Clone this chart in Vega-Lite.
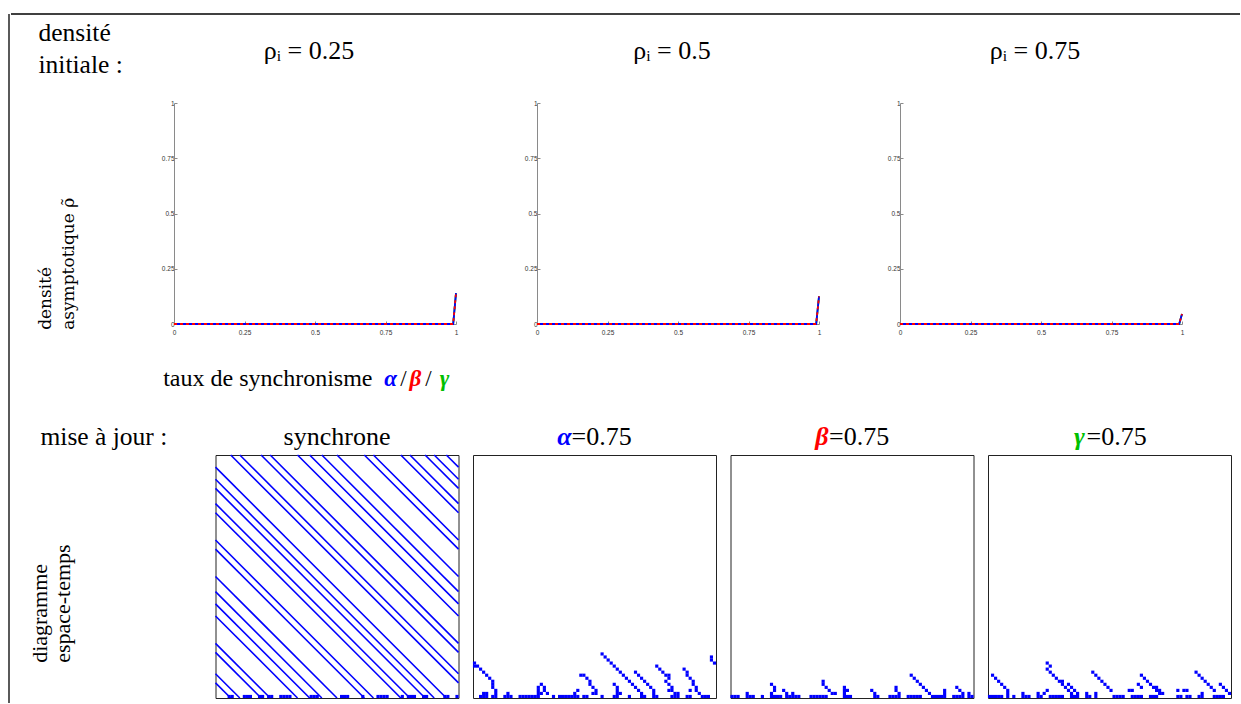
{
 "$schema": "https://vega.github.io/schema/vega-lite/v6.json",
 "padding": {"left": 8, "top": 13, "right": 0, "bottom": 0},
 "background": "white",
 "config": {
   "view": {"stroke": null},
   "font": "Liberation Serif",
   "title": {"font": "Liberation Serif", "fontWeight": "normal", "color": "black"},
   "text": {"font": "Liberation Serif"},
   "axis": {"grid": false}
 },
 "datasets": {
  "lines": [
   {"r":"0.25","s":"g","x":0,"y":0},{"r":"0.25","s":"g","x":0.25,"y":0},{"r":"0.25","s":"g","x":0.5,"y":0},{"r":"0.25","s":"g","x":0.75,"y":0},{"r":"0.25","s":"g","x":0.99,"y":0},{"r":"0.25","s":"g","x":1,"y":0.14},
   {"r":"0.25","s":"a","x":0,"y":0},{"r":"0.25","s":"a","x":0.25,"y":0},{"r":"0.25","s":"a","x":0.5,"y":0},{"r":"0.25","s":"a","x":0.75,"y":0},{"r":"0.25","s":"a","x":0.99,"y":0},{"r":"0.25","s":"a","x":1,"y":0.14},
   {"r":"0.25","s":"b","x":0,"y":0},{"r":"0.25","s":"b","x":0.25,"y":0},{"r":"0.25","s":"b","x":0.5,"y":0},{"r":"0.25","s":"b","x":0.75,"y":0},{"r":"0.25","s":"b","x":0.99,"y":0},{"r":"0.25","s":"b","x":1,"y":0.14},
   {"r":"0.5","s":"g","x":0,"y":0},{"r":"0.5","s":"g","x":0.25,"y":0},{"r":"0.5","s":"g","x":0.5,"y":0},{"r":"0.5","s":"g","x":0.75,"y":0},{"r":"0.5","s":"g","x":0.99,"y":0},{"r":"0.5","s":"g","x":1,"y":0.125},
   {"r":"0.5","s":"a","x":0,"y":0},{"r":"0.5","s":"a","x":0.25,"y":0},{"r":"0.5","s":"a","x":0.5,"y":0},{"r":"0.5","s":"a","x":0.75,"y":0},{"r":"0.5","s":"a","x":0.99,"y":0},{"r":"0.5","s":"a","x":1,"y":0.125},
   {"r":"0.5","s":"b","x":0,"y":0},{"r":"0.5","s":"b","x":0.25,"y":0},{"r":"0.5","s":"b","x":0.5,"y":0},{"r":"0.5","s":"b","x":0.75,"y":0},{"r":"0.5","s":"b","x":0.99,"y":0},{"r":"0.5","s":"b","x":1,"y":0.125},
   {"r":"0.75","s":"g","x":0,"y":0},{"r":"0.75","s":"g","x":0.25,"y":0},{"r":"0.75","s":"g","x":0.5,"y":0},{"r":"0.75","s":"g","x":0.75,"y":0},{"r":"0.75","s":"g","x":0.99,"y":0},{"r":"0.75","s":"g","x":1,"y":0.045},
   {"r":"0.75","s":"a","x":0,"y":0},{"r":"0.75","s":"a","x":0.25,"y":0},{"r":"0.75","s":"a","x":0.5,"y":0},{"r":"0.75","s":"a","x":0.75,"y":0},{"r":"0.75","s":"a","x":0.99,"y":0},{"r":"0.75","s":"a","x":1,"y":0.045},
   {"r":"0.75","s":"b","x":0,"y":0},{"r":"0.75","s":"b","x":0.25,"y":0},{"r":"0.75","s":"b","x":0.5,"y":0},{"r":"0.75","s":"b","x":0.75,"y":0},{"r":"0.75","s":"b","x":0.99,"y":0},{"r":"0.75","s":"b","x":1,"y":0.045}
  ],
  "segs": [
   {"p":"s","x":4.5,"y":79.5,"x2":79.5,"y2":4.5},{"p":"s","x":-0.5,"y":4.5,"x2":4.5,"y2":-0.5},
   {"p":"s","x":7.5,"y":79.5,"x2":79.5,"y2":7.5},{"p":"s","x":-0.5,"y":7.5,"x2":7.5,"y2":-0.5},
   {"p":"s","x":14.5,"y":79.5,"x2":79.5,"y2":14.5},{"p":"s","x":-0.5,"y":14.5,"x2":14.5,"y2":-0.5},
   {"p":"s","x":17.5,"y":79.5,"x2":79.5,"y2":17.5},{"p":"s","x":-0.5,"y":17.5,"x2":17.5,"y2":-0.5},
   {"p":"s","x":26.5,"y":79.5,"x2":79.5,"y2":26.5},{"p":"s","x":-0.5,"y":26.5,"x2":26.5,"y2":-0.5},
   {"p":"s","x":30.5,"y":79.5,"x2":79.5,"y2":30.5},{"p":"s","x":-0.5,"y":30.5,"x2":30.5,"y2":-0.5},
   {"p":"s","x":34.5,"y":79.5,"x2":79.5,"y2":34.5},{"p":"s","x":-0.5,"y":34.5,"x2":34.5,"y2":-0.5},
   {"p":"s","x":39.5,"y":79.5,"x2":79.5,"y2":39.5},{"p":"s","x":-0.5,"y":39.5,"x2":39.5,"y2":-0.5},
   {"p":"s","x":48.5,"y":79.5,"x2":79.5,"y2":48.5},{"p":"s","x":-0.5,"y":48.5,"x2":48.5,"y2":-0.5},
   {"p":"s","x":51.5,"y":79.5,"x2":79.5,"y2":51.5},{"p":"s","x":-0.5,"y":51.5,"x2":51.5,"y2":-0.5},
   {"p":"s","x":60.5,"y":79.5,"x2":79.5,"y2":60.5},{"p":"s","x":-0.5,"y":60.5,"x2":60.5,"y2":-0.5},
   {"p":"s","x":63.5,"y":79.5,"x2":79.5,"y2":63.5},{"p":"s","x":-0.5,"y":63.5,"x2":63.5,"y2":-0.5},
   {"p":"s","x":68.5,"y":79.5,"x2":79.5,"y2":68.5},{"p":"s","x":-0.5,"y":68.5,"x2":68.5,"y2":-0.5},
   {"p":"s","x":71.5,"y":79.5,"x2":79.5,"y2":71.5},{"p":"s","x":-0.5,"y":71.5,"x2":71.5,"y2":-0.5},
   {"p":"s","x":75.5,"y":79.5,"x2":79.5,"y2":75.5},{"p":"s","x":-0.5,"y":75.5,"x2":75.5,"y2":-0.5}
  ],
  "cells": [
   {"p":"s","x":4,"y":0},{"p":"s","x":5,"y":0},{"p":"s","x":9,"y":0},{"p":"s","x":10,"y":0},{"p":"s","x":11,"y":0},{"p":"s","x":14,"y":0},{"p":"s","x":15,"y":0},{"p":"s","x":17,"y":0},{"p":"s","x":18,"y":0},{"p":"s","x":21,"y":0},{"p":"s","x":22,"y":0},{"p":"s","x":23,"y":0},{"p":"s","x":24,"y":0},{"p":"s","x":31,"y":0},{"p":"s","x":32,"y":0},{"p":"s","x":33,"y":0},{"p":"s","x":41,"y":0},{"p":"s","x":42,"y":0},{"p":"s","x":43,"y":0},{"p":"s","x":48,"y":0},{"p":"s","x":53,"y":0},{"p":"s","x":54,"y":0},{"p":"s","x":55,"y":0},{"p":"s","x":56,"y":0},{"p":"s","x":61,"y":0},{"p":"s","x":63,"y":0},{"p":"s","x":64,"y":0},{"p":"s","x":65,"y":0},{"p":"s","x":68,"y":0},{"p":"s","x":69,"y":0},{"p":"s","x":75,"y":0},{"p":"s","x":76,"y":0},{"p":"s","x":79,"y":0},

   {"p":"a","x":0,"y":11},{"p":"a","x":0,"y":10},{"p":"a","x":1,"y":10},{"p":"a","x":2,"y":9},{"p":"a","x":3,"y":8},{"p":"a","x":4,"y":7},{"p":"a","x":5,"y":6},{"p":"a","x":6,"y":5},{"p":"a","x":6,"y":4},{"p":"a","x":6,"y":3},{"p":"a","x":7,"y":2},{"p":"a","x":7,"y":1},
   {"p":"a","x":2,"y":0},{"p":"a","x":3,"y":0},{"p":"a","x":4,"y":0},{"p":"a","x":6,"y":0},{"p":"a","x":7,"y":0},{"p":"a","x":10,"y":0},{"p":"a","x":11,"y":0},{"p":"a","x":12,"y":0},{"p":"a","x":15,"y":0},{"p":"a","x":16,"y":0},{"p":"a","x":17,"y":0},{"p":"a","x":18,"y":0},{"p":"a","x":19,"y":0},{"p":"a","x":20,"y":0},{"p":"a","x":21,"y":0},{"p":"a","x":26,"y":0},{"p":"a","x":28,"y":0},{"p":"a","x":29,"y":0},{"p":"a","x":30,"y":0},{"p":"a","x":31,"y":0},{"p":"a","x":32,"y":0},{"p":"a","x":33,"y":0},{"p":"a","x":34,"y":0},{"p":"a","x":36,"y":0},{"p":"a","x":37,"y":0},{"p":"a","x":42,"y":0},{"p":"a","x":46,"y":0},{"p":"a","x":47,"y":0},{"p":"a","x":51,"y":0},{"p":"a","x":55,"y":0},{"p":"a","x":56,"y":0},{"p":"a","x":59,"y":0},{"p":"a","x":60,"y":0},{"p":"a","x":65,"y":0},{"p":"a","x":66,"y":0},{"p":"a","x":67,"y":0},{"p":"a","x":70,"y":0},{"p":"a","x":71,"y":0},{"p":"a","x":75,"y":0},{"p":"a","x":76,"y":0},{"p":"a","x":77,"y":0},
   {"p":"a","x":3,"y":1},{"p":"a","x":4,"y":1},{"p":"a","x":11,"y":1},{"p":"a","x":21,"y":1},{"p":"a","x":21,"y":2},{"p":"a","x":21,"y":3},{"p":"a","x":22,"y":4},{"p":"a","x":23,"y":3},{"p":"a","x":23,"y":2},{"p":"a","x":24,"y":1},{"p":"a","x":22,"y":1},
   {"p":"a","x":35,"y":7},{"p":"a","x":36,"y":7},{"p":"a","x":37,"y":6},{"p":"a","x":38,"y":5},{"p":"a","x":38,"y":4},{"p":"a","x":39,"y":3},{"p":"a","x":40,"y":2},{"p":"a","x":39,"y":1},{"p":"a","x":40,"y":1},{"p":"a","x":33,"y":1},{"p":"a","x":34,"y":2},
   {"p":"a","x":42,"y":14},{"p":"a","x":43,"y":13},{"p":"a","x":44,"y":12},{"p":"a","x":45,"y":11},{"p":"a","x":46,"y":10},{"p":"a","x":47,"y":9},{"p":"a","x":48,"y":8},{"p":"a","x":49,"y":7},{"p":"a","x":50,"y":6},{"p":"a","x":51,"y":5},{"p":"a","x":52,"y":4},{"p":"a","x":53,"y":3},{"p":"a","x":54,"y":2},{"p":"a","x":55,"y":1},
   {"p":"a","x":53,"y":8},{"p":"a","x":54,"y":7},{"p":"a","x":55,"y":6},{"p":"a","x":56,"y":5},{"p":"a","x":57,"y":4},{"p":"a","x":58,"y":3},{"p":"a","x":59,"y":2},{"p":"a","x":59,"y":1},
   {"p":"a","x":60,"y":10},{"p":"a","x":61,"y":9},{"p":"a","x":62,"y":8},{"p":"a","x":63,"y":7},{"p":"a","x":64,"y":7},{"p":"a","x":64,"y":6},{"p":"a","x":63,"y":5},{"p":"a","x":64,"y":4},{"p":"a","x":65,"y":3},{"p":"a","x":64,"y":2},{"p":"a","x":65,"y":2},{"p":"a","x":66,"y":1},{"p":"a","x":67,"y":1},
   {"p":"a","x":69,"y":9},{"p":"a","x":70,"y":8},{"p":"a","x":70,"y":7},{"p":"a","x":71,"y":6},{"p":"a","x":72,"y":5},{"p":"a","x":72,"y":4},{"p":"a","x":73,"y":3},{"p":"a","x":71,"y":2},{"p":"a","x":73,"y":2},{"p":"a","x":74,"y":1},
   {"p":"a","x":78,"y":13},{"p":"a","x":78,"y":12},{"p":"a","x":79,"y":11},
   {"p":"a","x":46,"y":4},{"p":"a","x":47,"y":3},{"p":"a","x":47,"y":2},{"p":"a","x":47,"y":1},{"p":"a","x":48,"y":1},

   {"p":"b","x":0,"y":0},{"p":"b","x":1,"y":0},{"p":"b","x":2,"y":0},{"p":"b","x":5,"y":0},{"p":"b","x":6,"y":0},{"p":"b","x":7,"y":0},{"p":"b","x":10,"y":0},{"p":"b","x":13,"y":0},{"p":"b","x":14,"y":0},{"p":"b","x":15,"y":0},{"p":"b","x":16,"y":0},{"p":"b","x":18,"y":0},{"p":"b","x":19,"y":0},{"p":"b","x":20,"y":0},{"p":"b","x":21,"y":0},{"p":"b","x":22,"y":0},{"p":"b","x":26,"y":0},{"p":"b","x":27,"y":0},{"p":"b","x":28,"y":0},{"p":"b","x":29,"y":0},{"p":"b","x":30,"y":0},{"p":"b","x":31,"y":0},{"p":"b","x":37,"y":0},{"p":"b","x":38,"y":0},{"p":"b","x":39,"y":0},{"p":"b","x":47,"y":0},{"p":"b","x":48,"y":0},{"p":"b","x":52,"y":0},{"p":"b","x":53,"y":0},{"p":"b","x":54,"y":0},{"p":"b","x":55,"y":0},{"p":"b","x":58,"y":0},{"p":"b","x":59,"y":0},{"p":"b","x":60,"y":0},{"p":"b","x":61,"y":0},{"p":"b","x":62,"y":0},{"p":"b","x":66,"y":0},{"p":"b","x":67,"y":0},{"p":"b","x":68,"y":0},{"p":"b","x":69,"y":0},{"p":"b","x":70,"y":0},{"p":"b","x":73,"y":0},{"p":"b","x":74,"y":0},{"p":"b","x":75,"y":0},{"p":"b","x":76,"y":0},{"p":"b","x":78,"y":0},{"p":"b","x":79,"y":0},
   {"p":"b","x":5,"y":1},{"p":"b","x":13,"y":4},{"p":"b","x":14,"y":3},{"p":"b","x":14,"y":2},{"p":"b","x":13,"y":1},{"p":"b","x":17,"y":2},{"p":"b","x":18,"y":1},{"p":"b","x":20,"y":1},{"p":"b","x":30,"y":5},{"p":"b","x":30,"y":4},{"p":"b","x":31,"y":3},{"p":"b","x":32,"y":2},{"p":"b","x":33,"y":1},{"p":"b","x":34,"y":1},{"p":"b","x":37,"y":3},{"p":"b","x":37,"y":2},{"p":"b","x":38,"y":2},{"p":"b","x":37,"y":1},{"p":"b","x":46,"y":2},{"p":"b","x":47,"y":1},{"p":"b","x":54,"y":3},{"p":"b","x":54,"y":2},{"p":"b","x":55,"y":1},{"p":"b","x":59,"y":7},{"p":"b","x":60,"y":6},{"p":"b","x":61,"y":5},{"p":"b","x":62,"y":4},{"p":"b","x":63,"y":3},{"p":"b","x":64,"y":2},{"p":"b","x":65,"y":1},{"p":"b","x":70,"y":2},{"p":"b","x":70,"y":1},{"p":"b","x":74,"y":3},{"p":"b","x":75,"y":2},{"p":"b","x":76,"y":1},{"p":"b","x":78,"y":1},

   {"p":"g","x":0,"y":0},{"p":"g","x":1,"y":0},{"p":"g","x":2,"y":0},{"p":"g","x":3,"y":0},{"p":"g","x":4,"y":0},{"p":"g","x":6,"y":0},{"p":"g","x":8,"y":0},{"p":"g","x":11,"y":0},{"p":"g","x":12,"y":0},{"p":"g","x":13,"y":0},{"p":"g","x":16,"y":0},{"p":"g","x":17,"y":0},{"p":"g","x":20,"y":0},{"p":"g","x":21,"y":0},{"p":"g","x":22,"y":0},{"p":"g","x":23,"y":0},{"p":"g","x":24,"y":0},{"p":"g","x":27,"y":0},{"p":"g","x":28,"y":0},{"p":"g","x":29,"y":0},{"p":"g","x":32,"y":0},{"p":"g","x":33,"y":0},{"p":"g","x":35,"y":0},{"p":"g","x":41,"y":0},{"p":"g","x":42,"y":0},{"p":"g","x":43,"y":0},{"p":"g","x":44,"y":0},{"p":"g","x":47,"y":0},{"p":"g","x":48,"y":0},{"p":"g","x":49,"y":0},{"p":"g","x":50,"y":0},{"p":"g","x":53,"y":0},{"p":"g","x":54,"y":0},{"p":"g","x":55,"y":0},{"p":"g","x":62,"y":0},{"p":"g","x":63,"y":0},{"p":"g","x":65,"y":0},{"p":"g","x":66,"y":0},{"p":"g","x":69,"y":0},{"p":"g","x":70,"y":0},{"p":"g","x":74,"y":0},{"p":"g","x":75,"y":0},{"p":"g","x":76,"y":0},{"p":"g","x":77,"y":0},
   {"p":"g","x":1,"y":7},{"p":"g","x":2,"y":6},{"p":"g","x":3,"y":5},{"p":"g","x":4,"y":4},{"p":"g","x":5,"y":3},{"p":"g","x":6,"y":2},{"p":"g","x":6,"y":1},{"p":"g","x":11,"y":1},{"p":"g","x":16,"y":1},{"p":"g","x":19,"y":11},{"p":"g","x":20,"y":10},{"p":"g","x":19,"y":9},{"p":"g","x":20,"y":8},{"p":"g","x":21,"y":7},{"p":"g","x":22,"y":6},{"p":"g","x":23,"y":5},{"p":"g","x":24,"y":5},{"p":"g","x":24,"y":4},{"p":"g","x":25,"y":3},{"p":"g","x":26,"y":4},{"p":"g","x":26,"y":2},{"p":"g","x":27,"y":3},{"p":"g","x":27,"y":1},{"p":"g","x":28,"y":2},{"p":"g","x":29,"y":1},{"p":"g","x":18,"y":1},{"p":"g","x":19,"y":2},{"p":"g","x":32,"y":1},{"p":"g","x":35,"y":1},{"p":"g","x":34,"y":8},{"p":"g","x":35,"y":7},{"p":"g","x":36,"y":6},{"p":"g","x":37,"y":5},{"p":"g","x":38,"y":4},{"p":"g","x":39,"y":3},{"p":"g","x":40,"y":2},{"p":"g","x":46,"y":2},{"p":"g","x":47,"y":2},{"p":"g","x":49,"y":4},{"p":"g","x":50,"y":3},{"p":"g","x":50,"y":7},{"p":"g","x":51,"y":6},{"p":"g","x":52,"y":5},{"p":"g","x":53,"y":4},{"p":"g","x":54,"y":3},{"p":"g","x":55,"y":3},{"p":"g","x":55,"y":2},{"p":"g","x":56,"y":2},{"p":"g","x":56,"y":1},{"p":"g","x":57,"y":1},{"p":"g","x":62,"y":2},{"p":"g","x":64,"y":2},{"p":"g","x":65,"y":2},{"p":"g","x":68,"y":8},{"p":"g","x":69,"y":7},{"p":"g","x":70,"y":6},{"p":"g","x":71,"y":5},{"p":"g","x":72,"y":4},{"p":"g","x":73,"y":3},{"p":"g","x":74,"y":2},{"p":"g","x":70,"y":1},{"p":"g","x":76,"y":4},{"p":"g","x":77,"y":3},{"p":"g","x":78,"y":2},{"p":"g","x":79,"y":1}
  ]
 },
 "spacing": 0,
 "hconcat": [
  {"width": 0.5, "height": 689, "data": {"values": [{"v": 0}]}, "mark": {"type": "rule", "color": "black", "strokeWidth": 1.3}, "encoding": {"x": {"field": "v", "type": "quantitative", "scale": {"domain": [0, 1]}, "axis": null}}},
  {"spacing": 5, "vconcat": [
   {"width": 1229, "height": 2, "data": {"values": [{"v": 1}]}, "mark": {"type": "rule", "color": "black", "strokeWidth": 1.3}, "encoding": {"y": {"field": "v", "type": "quantitative", "scale": {"domain": [0, 1]}, "axis": null}}},
   {"spacing": 81, "bounds": "flush", "hconcat": [
    {"width": 82, "height": 315, "data": {"values": []}, "mark": "point", "encoding": {},
     "title": {"text": ["densité", "initiale :"], "anchor": "start", "frame": "group", "dx": 27.5, "offset": 4.5, "baseline": "alphabetic", "font": "Liberation Serif", "fontWeight": "normal", "fontSize": 25.5, "lineHeight": 32}},
    {"width": 282, "height": 221,
     "title": {"text": "ρᵢ = 0.25", "frame": "group", "anchor": "middle", "dx": -6, "offset": 15, "baseline": "alphabetic", "font": "Liberation Serif", "fontWeight": "normal", "fontSize": 26},
     "layer": [
      {"data": {"name": "lines"}, "transform": [{"filter": "datum.r == '0.25' && datum.s == 'g'"}], "mark": {"type": "line", "color": "#00c000", "strokeWidth": 1.8},
       "encoding": {
        "x": {"field": "x", "type": "quantitative", "scale": {"domain": [0, 1], "nice": false, "zero": false}, "axis": {"values": [0, 0.25, 0.5, 0.75, 1], "format": ".2~f", "title": null, "labelFlush": false, "labelOverlap": false, "domainColor": "#8a8a8a", "tickColor": "#8a8a8a", "tickSize": -3, "labelFont": "Liberation Sans", "labelFontSize": 6.5, "labelColor": "#333333", "labelPadding": 8.5}},
        "y": {"field": "y", "type": "quantitative", "scale": {"domain": [0, 1], "nice": false}, "axis": {"values": [0, 0.25, 0.5, 0.75, 1], "format": ".2~f", "labelFlush": false, "labelOverlap": false, "domainColor": "#8a8a8a", "tickColor": "#8a8a8a", "tickSize": -3, "labelFont": "Liberation Sans", "labelFontSize": 6.5, "labelColor": "#333333", "labelPadding": 3,
          "title": ["densité", "asymptotique ρ̃"], "titleFont": "DejaVu Serif", "titleFontSize": 17, "titleFontWeight": "normal", "titleColor": "black", "titleAngle": 270, "titleAlign": "left", "titleBaseline": "top", "titleX": -137, "titleY": 226.35, "titleLineHeight": 23}}
       }},
      {"data": {"name": "lines"}, "transform": [{"filter": "datum.r == '0.25' && datum.s == 'a'"}], "mark": {"type": "line", "color": "#0000ff", "strokeWidth": 1.8},
       "encoding": {"x": {"field": "x", "type": "quantitative"}, "y": {"field": "y", "type": "quantitative"}}},
      {"data": {"name": "lines"}, "transform": [{"filter": "datum.r == '0.25' && datum.s == 'b'"}], "mark": {"type": "line", "color": "#ff0000", "strokeWidth": 1.8, "strokeDash": [3, 3]},
       "encoding": {"x": {"field": "x", "type": "quantitative"}, "y": {"field": "y", "type": "quantitative"}}},
      {"data": {"values": [{}]}, "mark": {"type": "text", "text": "taux de synchronisme", "align": "left", "baseline": "middle", "dx": -10.8, "dy": 55.4, "fontSize": 24, "font": "Liberation Serif", "color": "black"}, "encoding": {"x": {"datum": 0, "type": "quantitative"}, "y": {"datum": 0, "type": "quantitative"}}},
      {"data": {"values": [{}]}, "mark": {"type": "text", "text": "α", "align": "center", "baseline": "middle", "dx": 216.5, "dy": 55.4, "fontSize": 23, "font": "Liberation Serif", "fontStyle": "italic", "fontWeight": "bold", "color": "#0000ff"}, "encoding": {"x": {"datum": 0, "type": "quantitative"}, "y": {"datum": 0, "type": "quantitative"}}},
      {"data": {"values": [{}]}, "mark": {"type": "text", "text": "/", "align": "center", "baseline": "middle", "dx": 229.5, "dy": 55.4, "fontSize": 23, "font": "Liberation Serif", "color": "black"}, "encoding": {"x": {"datum": 0, "type": "quantitative"}, "y": {"datum": 0, "type": "quantitative"}}},
      {"data": {"values": [{}]}, "mark": {"type": "text", "text": "β", "align": "center", "baseline": "middle", "dx": 241.5, "dy": 55.4, "fontSize": 23, "font": "Liberation Serif", "fontStyle": "italic", "fontWeight": "bold", "color": "#ff0000"}, "encoding": {"x": {"datum": 0, "type": "quantitative"}, "y": {"datum": 0, "type": "quantitative"}}},
      {"data": {"values": [{}]}, "mark": {"type": "text", "text": "/", "align": "center", "baseline": "middle", "dx": 254.5, "dy": 55.4, "fontSize": 23, "font": "Liberation Serif", "color": "black"}, "encoding": {"x": {"datum": 0, "type": "quantitative"}, "y": {"datum": 0, "type": "quantitative"}}},
      {"data": {"values": [{}]}, "mark": {"type": "text", "text": "γ", "align": "center", "baseline": "middle", "dx": 270.5, "dy": 55.4, "fontSize": 23, "font": "Liberation Serif", "fontStyle": "italic", "fontWeight": "bold", "color": "#00c000"}, "encoding": {"x": {"datum": 0, "type": "quantitative"}, "y": {"datum": 0, "type": "quantitative"}}}
     ]
    },
    {"width": 282, "height": 221,
     "title": {"text": "ρᵢ = 0.5", "frame": "group", "anchor": "middle", "dx": -6, "offset": 15, "baseline": "alphabetic", "font": "Liberation Serif", "fontWeight": "normal", "fontSize": 26},
     "data": {"name": "lines"},
     "encoding": {
      "x": {"field": "x", "type": "quantitative", "scale": {"domain": [0, 1], "nice": false, "zero": false}, "axis": {"values": [0, 0.25, 0.5, 0.75, 1], "format": ".2~f", "title": null, "labelFlush": false, "labelOverlap": false, "domainColor": "#8a8a8a", "tickColor": "#8a8a8a", "tickSize": -3, "labelFont": "Liberation Sans", "labelFontSize": 6.5, "labelColor": "#333333", "labelPadding": 8.5}},
      "y": {"field": "y", "type": "quantitative", "scale": {"domain": [0, 1], "nice": false}, "axis": {"values": [0, 0.25, 0.5, 0.75, 1], "format": ".2~f", "title": null, "labelFlush": false, "labelOverlap": false, "domainColor": "#8a8a8a", "tickColor": "#8a8a8a", "tickSize": -3, "labelFont": "Liberation Sans", "labelFontSize": 6.5, "labelColor": "#333333", "labelPadding": 3}}
     },
     "layer": [
      {"transform": [{"filter": "datum.r == '0.5' && datum.s == 'g'"}], "mark": {"type": "line", "color": "#00c000", "strokeWidth": 1.8}},
      {"transform": [{"filter": "datum.r == '0.5' && datum.s == 'a'"}], "mark": {"type": "line", "color": "#0000ff", "strokeWidth": 1.8}},
      {"transform": [{"filter": "datum.r == '0.5' && datum.s == 'b'"}], "mark": {"type": "line", "color": "#ff0000", "strokeWidth": 1.8, "strokeDash": [3, 3]}}
     ]
    },
    {"width": 282, "height": 221,
     "title": {"text": "ρᵢ = 0.75", "frame": "group", "anchor": "middle", "dx": -6, "offset": 15, "baseline": "alphabetic", "font": "Liberation Serif", "fontWeight": "normal", "fontSize": 26},
     "data": {"name": "lines"},
     "encoding": {
      "x": {"field": "x", "type": "quantitative", "scale": {"domain": [0, 1], "nice": false, "zero": false}, "axis": {"values": [0, 0.25, 0.5, 0.75, 1], "format": ".2~f", "title": null, "labelFlush": false, "labelOverlap": false, "domainColor": "#8a8a8a", "tickColor": "#8a8a8a", "tickSize": -3, "labelFont": "Liberation Sans", "labelFontSize": 6.5, "labelColor": "#333333", "labelPadding": 8.5}},
      "y": {"field": "y", "type": "quantitative", "scale": {"domain": [0, 1], "nice": false}, "axis": {"values": [0, 0.25, 0.5, 0.75, 1], "format": ".2~f", "title": null, "labelFlush": false, "labelOverlap": false, "domainColor": "#8a8a8a", "tickColor": "#8a8a8a", "tickSize": -3, "labelFont": "Liberation Sans", "labelFontSize": 6.5, "labelColor": "#333333", "labelPadding": 3}}
     },
     "layer": [
      {"transform": [{"filter": "datum.r == '0.75' && datum.s == 'g'"}], "mark": {"type": "line", "color": "#00c000", "strokeWidth": 1.8}},
      {"transform": [{"filter": "datum.r == '0.75' && datum.s == 'a'"}], "mark": {"type": "line", "color": "#0000ff", "strokeWidth": 1.8}},
      {"transform": [{"filter": "datum.r == '0.75' && datum.s == 'b'"}], "mark": {"type": "line", "color": "#ff0000", "strokeWidth": 1.8, "strokeDash": [3, 3]}}
     ]
    }
   ]},
   {"spacing": 14.5, "bounds": "flush", "hconcat": [
    {"width": 190, "height": 243, "data": {"values": []}, "mark": "point", "encoding": {},
     "title": {"text": "mise à jour :", "anchor": "start", "frame": "group", "dx": 29.5, "offset": -15, "baseline": "alphabetic", "font": "Liberation Serif", "fontWeight": "normal", "fontSize": 25.5}},
    {"width": 243, "height": 243, "view": {"stroke": "#222222", "strokeWidth": 1},
     "layer": [
      {"data": {"name": "segs"}, "transform": [{"filter": "datum.p == 's'"}], "mark": {"type": "rule", "color": "#0000ff", "strokeWidth": 1.6}, "encoding": {
        "x": {"field": "x", "type": "quantitative", "scale": {"domain": [-0.5, 79.5], "nice": false, "zero": false}, "axis": null},
        "y": {"field": "y", "type": "quantitative", "scale": {"domain": [-0.5, 79.5], "nice": false, "zero": false},
          "axis": {"labels": false, "ticks": false, "domain": false, "grid": false, "title": ["diagramme", "espace-temps"], "titleFont": "Liberation Serif", "titleFontSize": 22, "titleFontWeight": "normal", "titleColor": "black", "titleAngle": 270, "titleAlign": "left", "titleBaseline": "top", "titleX": -186, "titleY": 207.35, "titleLineHeight": 23}},
        "x2": {"field": "x2"}, "y2": {"field": "y2"}}},
      {"data": {"name": "cells"}, "transform": [{"filter": "datum.p == 's'"}], "mark": {"type": "square", "size": 10, "color": "#0000ff", "opacity": 1}, "encoding": {
        "x": {"field": "x", "type": "quantitative", "axis": null}, "y": {"field": "y", "type": "quantitative"}}},
      {"data": {"values": [{}]}, "mark": {"type": "text", "text": "synchrone", "fontSize": 26, "baseline": "alphabetic", "align": "center", "dy": -9.65, "font": "Liberation Serif", "color": "black"}, "encoding": {"x": {"datum": 39.5, "type": "quantitative", "axis": null}, "y": {"datum": 79.5, "type": "quantitative"}}}
     ]
    },
    {"width": 243, "height": 243, "view": {"stroke": "#222222", "strokeWidth": 1},
     "layer": [
      {"data": {"name": "cells"}, "transform": [{"filter": "datum.p == 'a'"}], "mark": {"type": "square", "size": 10, "color": "#0000ff", "opacity": 1}, "encoding": {
        "x": {"field": "x", "type": "quantitative", "scale": {"domain": [-0.5, 79.5], "nice": false, "zero": false}, "axis": null},
        "y": {"field": "y", "type": "quantitative", "scale": {"domain": [-0.5, 79.5], "nice": false, "zero": false}, "axis": null}}},
      {"data": {"values": [{}]}, "mark": {"type": "text", "text": "α", "fontSize": 26, "baseline": "alphabetic", "align": "center", "dx": -30, "dy": -9.65, "font": "Liberation Serif", "fontStyle": "italic", "fontWeight": "bold", "color": "#0000ff"}, "encoding": {"x": {"datum": 39.5, "type": "quantitative", "axis": null}, "y": {"datum": 79.5, "type": "quantitative", "axis": null}}},
      {"data": {"values": [{}]}, "mark": {"type": "text", "text": "=0.75", "fontSize": 26, "baseline": "alphabetic", "align": "left", "dx": -23, "dy": -9.65, "font": "Liberation Serif", "color": "black"}, "encoding": {"x": {"datum": 39.5, "type": "quantitative", "axis": null}, "y": {"datum": 79.5, "type": "quantitative", "axis": null}}}
     ]
    },
    {"width": 243, "height": 243, "view": {"stroke": "#222222", "strokeWidth": 1},
     "layer": [
      {"data": {"name": "cells"}, "transform": [{"filter": "datum.p == 'b'"}], "mark": {"type": "square", "size": 10, "color": "#0000ff", "opacity": 1}, "encoding": {
        "x": {"field": "x", "type": "quantitative", "scale": {"domain": [-0.5, 79.5], "nice": false, "zero": false}, "axis": null},
        "y": {"field": "y", "type": "quantitative", "scale": {"domain": [-0.5, 79.5], "nice": false, "zero": false}, "axis": null}}},
      {"data": {"values": [{}]}, "mark": {"type": "text", "text": "β", "fontSize": 26, "baseline": "alphabetic", "align": "center", "dx": -30, "dy": -9.65, "font": "Liberation Serif", "fontStyle": "italic", "fontWeight": "bold", "color": "#ff0000"}, "encoding": {"x": {"datum": 39.5, "type": "quantitative", "axis": null}, "y": {"datum": 79.5, "type": "quantitative", "axis": null}}},
      {"data": {"values": [{}]}, "mark": {"type": "text", "text": "=0.75", "fontSize": 26, "baseline": "alphabetic", "align": "left", "dx": -23, "dy": -9.65, "font": "Liberation Serif", "color": "black"}, "encoding": {"x": {"datum": 39.5, "type": "quantitative", "axis": null}, "y": {"datum": 79.5, "type": "quantitative", "axis": null}}}
     ]
    },
    {"width": 243, "height": 243, "view": {"stroke": "#222222", "strokeWidth": 1},
     "layer": [
      {"data": {"name": "cells"}, "transform": [{"filter": "datum.p == 'g'"}], "mark": {"type": "square", "size": 10, "color": "#0000ff", "opacity": 1}, "encoding": {
        "x": {"field": "x", "type": "quantitative", "scale": {"domain": [-0.5, 79.5], "nice": false, "zero": false}, "axis": null},
        "y": {"field": "y", "type": "quantitative", "scale": {"domain": [-0.5, 79.5], "nice": false, "zero": false}, "axis": null}}},
      {"data": {"values": [{}]}, "mark": {"type": "text", "text": "γ", "fontSize": 26, "baseline": "alphabetic", "align": "center", "dx": -30, "dy": -9.65, "font": "Liberation Serif", "fontStyle": "italic", "fontWeight": "bold", "color": "#00c000"}, "encoding": {"x": {"datum": 39.5, "type": "quantitative", "axis": null}, "y": {"datum": 79.5, "type": "quantitative", "axis": null}}},
      {"data": {"values": [{}]}, "mark": {"type": "text", "text": "=0.75", "fontSize": 26, "baseline": "alphabetic", "align": "left", "dx": -23, "dy": -9.65, "font": "Liberation Serif", "color": "black"}, "encoding": {"x": {"datum": 39.5, "type": "quantitative", "axis": null}, "y": {"datum": 79.5, "type": "quantitative", "axis": null}}}
     ]
    }
   ]}
  ]}
 ]
}
